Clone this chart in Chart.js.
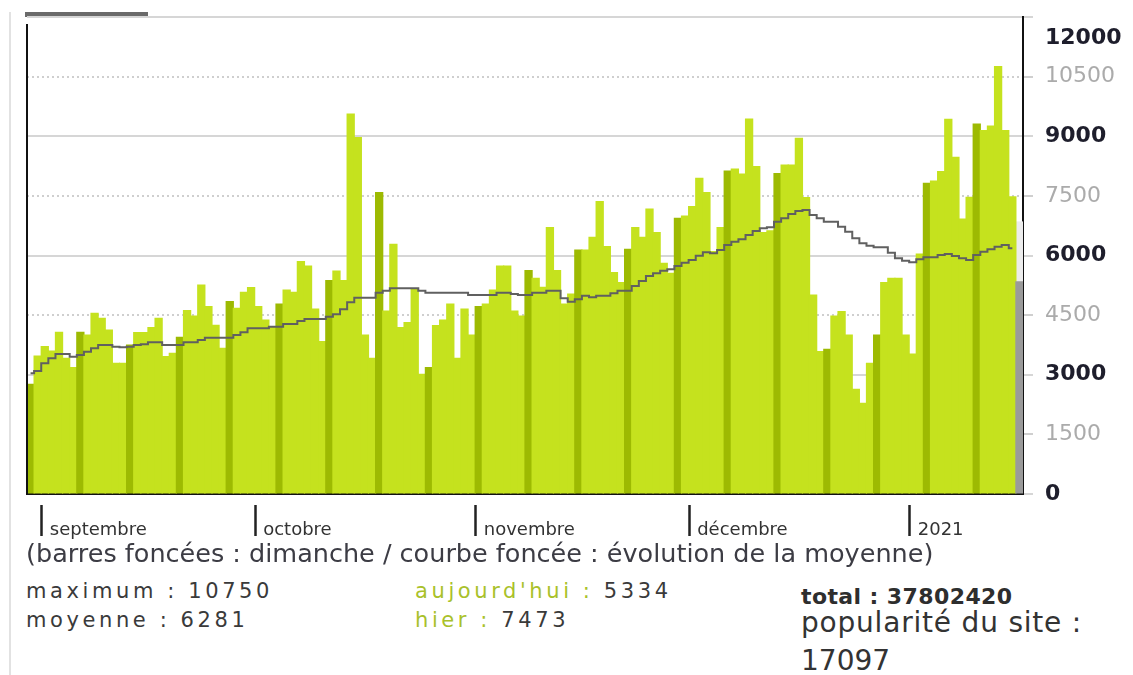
<!DOCTYPE html>
<html lang="fr">
<head>
<meta charset="utf-8">
<title>Visites</title>
<script src="https://cdn.jsdelivr.net/npm/chart.js@4"></script>
<style>
  body { margin: 0; background: #fff; width: 1133px; height: 675px; overflow: hidden; position: relative;
         font-family: "DejaVu Sans", Verdana, sans-serif; }
  #wrap { position: absolute; left: 0; top: 0; width: 1133px; height: 545px; }
  .pageline { position: absolute; left: 9px; top: 12px; width: 2px; height: 663px; background: #e2e2e2; }
  .tab { position: absolute; left: 25px; top: 12px; width: 123px; height: 5px; background: #6a6a6a; }
  .txt { position: absolute; white-space: nowrap; }
  .caption { left: 26px; top: 541px; font-size: 25.5px; line-height: 25px; color: #3c3c44; }
  .stat { font-size: 21px; line-height: 21px; letter-spacing: 3.6px; color: #3a3a3a; }
  .vert { color: #a9c12a; }
  .total { left: 801px; top: 586px; font-size: 22px; line-height: 22px; letter-spacing: 0.4px; font-weight: bold; color: #2e2e2e; }
  .pop { left: 801px; font-size: 28px; line-height: 28px; color: #333; }
</style>
</head>
<body>
<div class="pageline"></div>
<div class="tab"></div>
<div id="wrap"><canvas id="visites" width="1133" height="545"></canvas></div>

<div class="txt caption">(barres foncées : dimanche / courbe foncée : évolution de la moyenne)</div>
<div class="txt stat" style="left:26px; top:581px;">maximum : 10750</div>
<div class="txt stat" style="left:26px; top:610px;">moyenne : 6281</div>
<div class="txt stat" style="left:415px; top:581px;"><span class="vert">aujourd'hui :</span> 5334</div>
<div class="txt stat" style="left:415px; top:610px;"><span class="vert">hier :</span> 7473</div>
<div class="txt total">total : 37802420</div>
<div class="txt pop" style="top:609px; letter-spacing:0.8px;">popularité du site :</div>
<div class="txt pop" style="top:647px;">17097</div>

<script>
// daily visits, 30 Aug 2020 -> 16 Jan 2021 (last one = today, partial)
const firstDay = Date.UTC(2020, 7, 30);
const visites = [
  2760, 3472, 3706, 3597, 4068, 3413, 3178,
  4068, 4000, 4545, 4419, 4126, 3288, 3288,
  3748, 4058, 4058, 4184, 4419, 3455, 3539,
  3941, 4612, 4478, 5258, 4713, 4243, 3665,
  4838, 4671, 5074, 5191, 4713, 4377, 4210,
  4780, 5132, 5074, 5845, 5736, 4654, 3832,
  5367, 5610, 5367, 9560, 8965, 4000, 3413,
  7581, 4604, 6281, 4184, 4310, 5157, 3011,
  3178, 4235, 4377, 4780, 3413, 4654, 4000,
  4713, 4780, 5132, 5736, 5736, 4604, 4478,
  5618, 5426, 5199, 6700, 5618, 4780, 5031,
  6138, 6138, 6457, 7354, 6222, 5568, 5316,
  6155, 6700, 6457, 7170, 6574, 5803, 5552,
  6935, 6994, 7228, 7942, 7581, 6096, 6700,
  8126, 8176, 8050, 9434, 8235, 6574, 6620,
  8060, 8277, 8277, 8948, 7455, 5006, 3580,
  3639, 4478, 4587, 4000, 2633, 2281, 3288,
  4000, 5316, 5426, 5426, 4000, 3522, 6038,
  7816, 7874, 8109, 9426, 8470, 6918, 7463,
  9308, 9140, 9258, 10750, 9140, 7473, 5334
];
// running average (courbe foncée)
const moyenne = [
  3040, 3094, 3288, 3413, 3522, 3522, 3455,
  3497, 3580, 3665, 3748, 3748, 3706, 3690,
  3706, 3748, 3765, 3815, 3815, 3748, 3748,
  3748, 3815, 3815, 3874, 3933, 3933, 3933,
  3933, 4000, 4068, 4168, 4168, 4168, 4210,
  4210, 4277, 4277, 4352, 4403, 4403, 4403,
  4461, 4520, 4646, 4822, 4939, 4939, 4939,
  5065, 5115, 5174, 5174, 5174, 5174, 5115,
  5065, 5065, 5065, 5065, 5065, 5065, 5006,
  5006, 5006, 5006, 5065, 5065, 5030, 5006,
  5006, 5065, 5065, 5115, 5115, 4923, 4838,
  4897, 4990, 4948, 4990, 4990, 5048, 5115,
  5115, 5233, 5358, 5484, 5552, 5618, 5652,
  5736, 5819, 5887, 5996, 6080, 6054, 6138,
  6264, 6348, 6407, 6516, 6616, 6683, 6710,
  6850, 6934, 7044, 7120, 7145, 7019, 6934,
  6850, 6850, 6725, 6600, 6432, 6306, 6248,
  6206, 6206, 6071, 5929, 5870, 5829, 5904,
  5954, 5954, 6013, 6038, 5988, 5929, 5887,
  6013, 6096, 6155, 6222, 6264, 6180, null
];
const projectionAujourdhui = 1516;   // light grey part above today's bar
const monthLabels = {
  '2020-09-01': 'septembre',
  '2020-10-01': 'octobre',
  '2020-11-01': 'novembre',
  '2020-12-01': 'décembre',
  '2021-01-01': '2021'
};
const yTicks = [0, 1500, 3000, 4500, 6000, 7500, 9000, 10500, 12000];

const days = visites.map((v, i) => new Date(firstDay + i * 86400000).toISOString().slice(0, 10));
const last = visites.length - 1;
const isSunday = d => new Date(d + 'T00:00:00Z').getUTCDay() === 0;
const barColors = days.map((d, i) => i === last ? '#9a9a9a' : isSunday(d) ? '#9dba02' : '#c5e21e');
const projection = visites.map((v, i) => i === last ? projectionAujourdhui : null);

const monthMarks = {
  id: 'monthMarks',
  afterDraw(chart) {
    const x = chart.scales.x, c = chart.ctx, a = chart.chartArea;
    const half = (x.getPixelForValue(1) - x.getPixelForValue(0)) / 2;
    c.save();
    c.strokeStyle = '#222';
    c.lineWidth = 2.5;
    days.forEach((d, i) => {
      if (!monthLabels[d]) return;
      const px = Math.round(x.getPixelForValue(i) - half) + 0.5;
      c.beginPath();
      c.moveTo(px, a.bottom + 11);
      c.lineTo(px, a.bottom + 42);
      c.stroke();
    });
    c.strokeStyle = '#111';
    c.lineWidth = 2;
    c.beginPath();
    c.moveTo(a.left, a.top + 7);
    c.lineTo(a.left, a.bottom);
    c.stroke();
    c.restore();
  }
};

new Chart(document.getElementById('visites'), {
  data: {
    labels: days,
    datasets: [
      {
        type: 'line', label: 'moyenne', data: moyenne, order: 0,
        borderColor: '#606060', borderWidth: 2, pointRadius: 0, stepped: 'middle'
      },
      {
        type: 'bar', label: 'visites', data: visites, order: 1,
        backgroundColor: barColors, borderWidth: 0,
        categoryPercentage: 1, barPercentage: 1, inflateAmount: 0.6
      },
      {
        type: 'bar', label: 'projection', data: projection, order: 1,
        backgroundColor: '#ececec', borderWidth: 0,
        categoryPercentage: 1, barPercentage: 1
      }
    ]
  },
  options: {
    responsive: false,
    animation: false,
    layout: { padding: { top: 17, left: 27, right: 0, bottom: 0 } },
    plugins: { legend: { display: false }, tooltip: { enabled: false } },
    scales: {
      x: {
        stacked: true,
        grid: { display: false },
        border: { color: '#111', width: 2 },
        ticks: {
          autoSkip: false, maxRotation: 0, minRotation: 0,
          align: 'start', labelOffset: 5, padding: 18,
          color: '#333', font: { family: 'DejaVu Sans', size: 18 },
          callback: (v, i) => monthLabels[days[i]] || ''
        },
        afterFit: s => { s.height = 51; s.paddingLeft = 0; s.paddingRight = 0; }
      },
      y: {
        position: 'right', stacked: true, min: 0, max: 12000,
        afterBuildTicks: s => { s.ticks = yTicks.map(v => ({ value: v })); },
        ticks: {
          autoSkip: false,
          padding: 12,
          color: c => (c.tick && c.tick.value % 3000) ? '#ababab' : '#1e1e2c',
          font: c => ({
            family: 'DejaVu Sans', size: 22,
            weight: (c.tick && c.tick.value % 3000) ? 'normal' : 'bold',
            lineHeight: (c.tick && c.tick.value === 12000) ? 1.9 : 1.2
          }),
          callback: v => v === 12000 ? ['', '12000'] : String(v)
        },
        grid: {
          color: c => (c.tick && c.tick.value % 3000) ? '#cfcfcf' : '#d6d6d6',
          lineWidth: 2, tickLength: 10
        },
        border: {
          color: '#111', width: 2,
          dash: c => (c.tick && c.tick.value % 3000) ? [2, 3] : []
        },
        afterFit: s => { s.width = 110; s.paddingTop = 0; s.paddingBottom = 0; }
      }
    }
  },
  plugins: [monthMarks]
});
</script>
</body>
</html>
